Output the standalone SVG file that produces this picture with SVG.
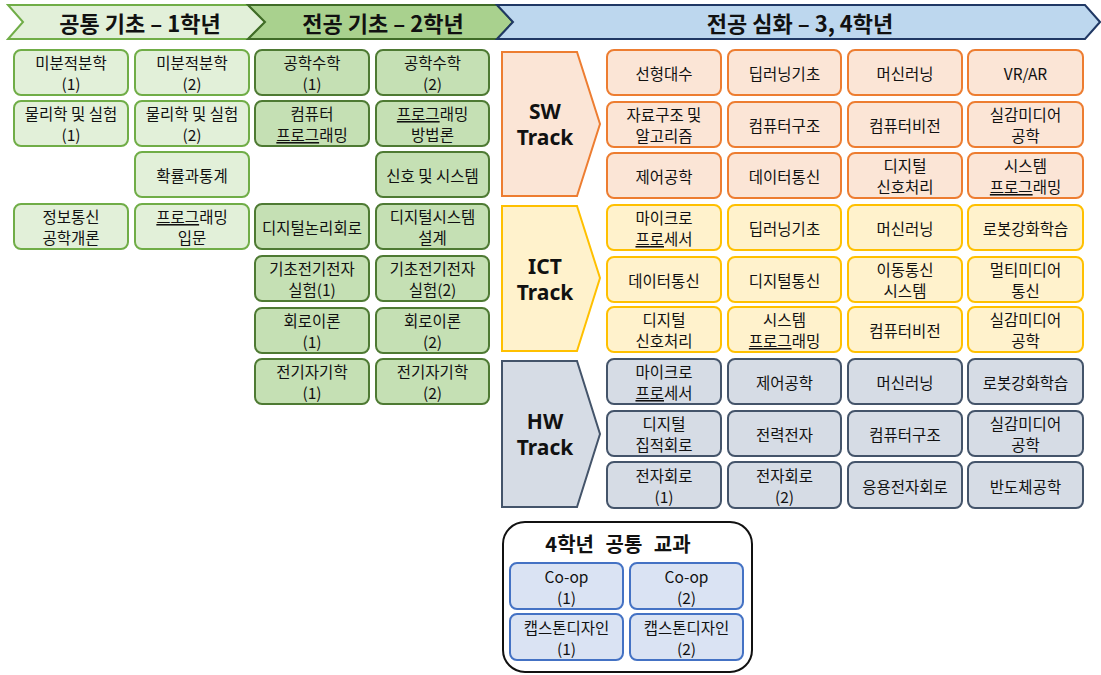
<svg xmlns="http://www.w3.org/2000/svg" width="1101" height="675" viewBox="0 0 1101 675">
<style>
text{font-family:"Noto Sans CJK KR","Noto Sans",sans-serif;fill:#111;text-anchor:middle;dominant-baseline:central}
.t{font-size:15.5px}
.h{font-size:22px;font-weight:bold}
.tr{font-size:21px;font-weight:bold;font-family:"Noto Sans","Noto Sans CJK KR",sans-serif}
.u{text-decoration:underline}
rect{stroke-width:2}
.g1{fill:#e2f0d9;stroke:#70ad47}
.g2{fill:#c5e0b4;stroke:#4e7a33}
.sw{fill:#fbe5d6;stroke:#ed7d31}
.ict{fill:#fff2cc;stroke:#ffc000}
.hw{fill:#d6dce5;stroke:#44546a}
.c4{fill:#dae3f3;stroke:#4472c4}
</style>
<g id="headers">
<polygon points="8,5 248,5 265,22 248,39 8,39 23,22" fill="#e2f0d9" stroke="#70ad47" stroke-width="2"/>
<polygon points="248,5 497,5 513,22 497,39 248,39 265,22" fill="#a9d18e" stroke="#3f6b27" stroke-width="2"/>
<polygon points="497,5 1085,5 1100,22 1085,39 497,39 513,22" fill="#bdd7ee" stroke="#203864" stroke-width="2"/>
<text class="h" x="140" y="22">공통 기초 – 1학년</text>
<text class="h" x="383" y="22">전공 기초 – 2학년</text>
<text class="h" x="800" y="22">전공 심화 – 3, 4학년</text>
</g>
<g id="year1">
<g id="y1-1"><rect class="g1" x="14" y="50" width="114" height="45" rx="7"/><text class="t" x="71" y="62">미분적분학</text><text class="t" x="71" y="83">(1)</text></g>
<g id="y1-2"><rect class="g1" x="135" y="50" width="114" height="45" rx="7"/><text class="t" x="192" y="62">미분적분학</text><text class="t" x="192" y="83">(2)</text></g>
<g id="y1-3"><rect class="g1" x="14" y="101" width="114" height="45" rx="7"/><text class="t" x="71" y="113">물리학 및 실험</text><text class="t" x="71" y="134">(1)</text></g>
<g id="y1-4"><rect class="g1" x="135" y="101" width="114" height="45" rx="7"/><text class="t" x="192" y="113">물리학 및 실험</text><text class="t" x="192" y="134">(2)</text></g>
<g id="y1-5"><rect class="g1" x="135" y="152" width="114" height="45" rx="7"/><text class="t" x="192" y="175">확률과통계</text></g>
<g id="y1-6"><rect class="g1" x="14" y="204" width="114" height="45" rx="7"/><text class="t" x="71" y="216">정보통신</text><text class="t" x="71" y="237">공학개론</text></g>
<g id="y1-7"><rect class="g1" x="135" y="204" width="114" height="45" rx="7"/><text class="t" x="192" y="216"><tspan class="u">프로그</tspan>래밍</text><text class="t" x="192" y="237">입문</text></g>
</g>
<g id="year2">
<g id="y2-1"><rect class="g2" x="255" y="50" width="114" height="45" rx="7"/><text class="t" x="312" y="62">공학수학</text><text class="t" x="312" y="83">(1)</text></g>
<g id="y2-2"><rect class="g2" x="376" y="50" width="113" height="45" rx="7"/><text class="t" x="432.5" y="62">공학수학</text><text class="t" x="432.5" y="83">(2)</text></g>
<g id="y2-3"><rect class="g2" x="255" y="101" width="114" height="45" rx="7"/><text class="t" x="312" y="113">컴퓨터</text><text class="t" x="312" y="134"><tspan class="u">프로그</tspan>래밍</text></g>
<g id="y2-4"><rect class="g2" x="376" y="101" width="113" height="45" rx="7"/><text class="t" x="432.5" y="113"><tspan class="u">프로그</tspan>래밍</text><text class="t" x="432.5" y="134">방법론</text></g>
<g id="y2-5"><rect class="g2" x="376" y="152" width="113" height="45" rx="7"/><text class="t" x="432.5" y="175">신호 및 시스템</text></g>
<g id="y2-6"><rect class="g2" x="255" y="204" width="114" height="45" rx="7"/><text class="t" x="312" y="227">디지털논리회로</text></g>
<g id="y2-7"><rect class="g2" x="376" y="204" width="113" height="45" rx="7"/><text class="t" x="432.5" y="216">디지털시스템</text><text class="t" x="432.5" y="237">설계</text></g>
<g id="y2-8"><rect class="g2" x="255" y="256" width="114" height="45" rx="7"/><text class="t" x="312" y="268">기초전기전자</text><text class="t" x="312" y="289">실험(1)</text></g>
<g id="y2-9"><rect class="g2" x="376" y="256" width="113" height="45" rx="7"/><text class="t" x="432.5" y="268">기초전기전자</text><text class="t" x="432.5" y="289">실험(2)</text></g>
<g id="y2-10"><rect class="g2" x="255" y="308" width="114" height="45" rx="7"/><text class="t" x="312" y="320">회로이론</text><text class="t" x="312" y="341">(1)</text></g>
<g id="y2-11"><rect class="g2" x="376" y="308" width="113" height="45" rx="7"/><text class="t" x="432.5" y="320">회로이론</text><text class="t" x="432.5" y="341">(2)</text></g>
<g id="y2-12"><rect class="g2" x="255" y="359" width="114" height="45" rx="7"/><text class="t" x="312" y="371">전기자기학</text><text class="t" x="312" y="392">(1)</text></g>
<g id="y2-13"><rect class="g2" x="376" y="359" width="113" height="45" rx="7"/><text class="t" x="432.5" y="371">전기자기학</text><text class="t" x="432.5" y="392">(2)</text></g>
</g>
<g id="sw-track">
<g id="sw-label"><polygon points="502,52 577,52 600,124 577,196 502,196" fill="#fbe5d6" stroke="#ed7d31" stroke-width="2"/><text class="tr" x="545" y="111">SW</text><text class="tr" x="545" y="137">Track</text></g>
<g id="sw-1"><rect class="sw" x="607" y="50" width="114" height="45" rx="7"/><text class="t" x="664" y="73">선형대수</text></g>
<g id="sw-2"><rect class="sw" x="728" y="50" width="113" height="45" rx="7"/><text class="t" x="784.5" y="73">딥러닝기초</text></g>
<g id="sw-3"><rect class="sw" x="848" y="50" width="114" height="45" rx="7"/><text class="t" x="905" y="73">머신러닝</text></g>
<g id="sw-4"><rect class="sw" x="968" y="50" width="115" height="45" rx="7"/><text class="t" x="1025.5" y="73">VR/AR</text></g>
<g id="sw-5"><rect class="sw" x="607" y="102" width="114" height="45" rx="7"/><text class="t" x="664" y="114">자료구조 및</text><text class="t" x="664" y="135">알고리즘</text></g>
<g id="sw-6"><rect class="sw" x="728" y="102" width="113" height="45" rx="7"/><text class="t" x="784.5" y="125">컴퓨터구조</text></g>
<g id="sw-7"><rect class="sw" x="848" y="102" width="114" height="45" rx="7"/><text class="t" x="905" y="125">컴퓨터비전</text></g>
<g id="sw-8"><rect class="sw" x="968" y="102" width="115" height="45" rx="7"/><text class="t" x="1025.5" y="114">실감미디어</text><text class="t" x="1025.5" y="135">공학</text></g>
<g id="sw-9"><rect class="sw" x="607" y="153" width="114" height="45" rx="7"/><text class="t" x="664" y="176">제어공학</text></g>
<g id="sw-10"><rect class="sw" x="728" y="153" width="113" height="45" rx="7"/><text class="t" x="784.5" y="176">데이터통신</text></g>
<g id="sw-11"><rect class="sw" x="848" y="153" width="114" height="45" rx="7"/><text class="t" x="905" y="165">디지털</text><text class="t" x="905" y="186">신호처리</text></g>
<g id="sw-12"><rect class="sw" x="968" y="153" width="115" height="45" rx="7"/><text class="t" x="1025.5" y="165">시스템</text><text class="t" x="1025.5" y="186"><tspan class="u">프로그</tspan>래밍</text></g>
</g>
<g id="ict-track">
<g id="ict-label"><polygon points="502,206 577,206 600,278 577,351 502,351" fill="#fff2cc" stroke="#ffc000" stroke-width="2"/><text class="tr" x="545" y="266">ICT</text><text class="tr" x="545" y="292">Track</text></g>
<g id="ict-1"><rect class="ict" x="607" y="205" width="114" height="45" rx="7"/><text class="t" x="664" y="217">마이크로</text><text class="t" x="664" y="238"><tspan class="u">프로</tspan>세서</text></g>
<g id="ict-2"><rect class="ict" x="728" y="205" width="113" height="45" rx="7"/><text class="t" x="784.5" y="228">딥러닝기초</text></g>
<g id="ict-3"><rect class="ict" x="848" y="205" width="114" height="45" rx="7"/><text class="t" x="905" y="228">머신러닝</text></g>
<g id="ict-4"><rect class="ict" x="968" y="205" width="115" height="45" rx="7"/><text class="t" x="1025.5" y="228">로봇강화학습</text></g>
<g id="ict-5"><rect class="ict" x="607" y="257" width="114" height="45" rx="7"/><text class="t" x="664" y="280">데이터통신</text></g>
<g id="ict-6"><rect class="ict" x="728" y="257" width="113" height="45" rx="7"/><text class="t" x="784.5" y="280">디지털통신</text></g>
<g id="ict-7"><rect class="ict" x="848" y="257" width="114" height="45" rx="7"/><text class="t" x="905" y="269">이동통신</text><text class="t" x="905" y="290">시스템</text></g>
<g id="ict-8"><rect class="ict" x="968" y="257" width="115" height="45" rx="7"/><text class="t" x="1025.5" y="269">멀티미디어</text><text class="t" x="1025.5" y="290">통신</text></g>
<g id="ict-9"><rect class="ict" x="607" y="307" width="114" height="45" rx="7"/><text class="t" x="664" y="319">디지털</text><text class="t" x="664" y="340">신호처리</text></g>
<g id="ict-10"><rect class="ict" x="728" y="307" width="113" height="45" rx="7"/><text class="t" x="784.5" y="319">시스템</text><text class="t" x="784.5" y="340"><tspan class="u">프로그</tspan>래밍</text></g>
<g id="ict-11"><rect class="ict" x="848" y="307" width="114" height="45" rx="7"/><text class="t" x="905" y="330">컴퓨터비전</text></g>
<g id="ict-12"><rect class="ict" x="968" y="307" width="115" height="45" rx="7"/><text class="t" x="1025.5" y="319">실감미디어</text><text class="t" x="1025.5" y="340">공학</text></g>
</g>
<g id="hw-track">
<g id="hw-label"><polygon points="502,361 577,361 600,434 577,507 502,507" fill="#d6dce5" stroke="#44546a" stroke-width="2"/><text class="tr" x="545" y="421">HW</text><text class="tr" x="545" y="447">Track</text></g>
<g id="hw-1"><rect class="hw" x="607" y="359" width="114" height="45" rx="7"/><text class="t" x="664" y="371">마이크로</text><text class="t" x="664" y="392"><tspan class="u">프로</tspan>세서</text></g>
<g id="hw-2"><rect class="hw" x="728" y="359" width="113" height="45" rx="7"/><text class="t" x="784.5" y="382">제어공학</text></g>
<g id="hw-3"><rect class="hw" x="848" y="359" width="114" height="45" rx="7"/><text class="t" x="905" y="382">머신러닝</text></g>
<g id="hw-4"><rect class="hw" x="968" y="359" width="115" height="45" rx="7"/><text class="t" x="1025.5" y="382">로봇강화학습</text></g>
<g id="hw-5"><rect class="hw" x="607" y="411" width="114" height="45" rx="7"/><text class="t" x="664" y="423">디지털</text><text class="t" x="664" y="444">집적회로</text></g>
<g id="hw-6"><rect class="hw" x="728" y="411" width="113" height="45" rx="7"/><text class="t" x="784.5" y="434">전력전자</text></g>
<g id="hw-7"><rect class="hw" x="848" y="411" width="114" height="45" rx="7"/><text class="t" x="905" y="434">컴퓨터구조</text></g>
<g id="hw-8"><rect class="hw" x="968" y="411" width="115" height="45" rx="7"/><text class="t" x="1025.5" y="423">실감미디어</text><text class="t" x="1025.5" y="444">공학</text></g>
<g id="hw-9"><rect class="hw" x="607" y="462" width="114" height="46" rx="7"/><text class="t" x="664" y="475">전자회로</text><text class="t" x="664" y="496">(1)</text></g>
<g id="hw-10"><rect class="hw" x="728" y="462" width="113" height="46" rx="7"/><text class="t" x="784.5" y="475">전자회로</text><text class="t" x="784.5" y="496">(2)</text></g>
<g id="hw-11"><rect class="hw" x="848" y="462" width="114" height="46" rx="7"/><text class="t" x="905" y="486">응용전자회로</text></g>
<g id="hw-12"><rect class="hw" x="968" y="462" width="115" height="46" rx="7"/><text class="t" x="1025.5" y="486">반도체공학</text></g>
</g>
<g id="year4-common">
<rect x="503" y="522" width="249" height="150" rx="22" fill="#fff" stroke="#111" stroke-width="2"/>
<text class="h" x="618" y="543" style="font-size:20px;word-spacing:7px">4학년 공통 교과</text>
<g id="c4-1"><rect class="c4" x="510" y="563" width="113" height="46" rx="7"/><text class="t" x="566.5" y="576">Co-op</text><text class="t" x="566.5" y="597">(1)</text></g>
<g id="c4-2"><rect class="c4" x="630" y="563" width="113" height="46" rx="7"/><text class="t" x="686.5" y="576">Co-op</text><text class="t" x="686.5" y="597">(2)</text></g>
<g id="c4-3"><rect class="c4" x="510" y="614" width="113" height="46" rx="7"/><text class="t" x="566.5" y="627">캡스톤디자인</text><text class="t" x="566.5" y="648">(1)</text></g>
<g id="c4-4"><rect class="c4" x="630" y="614" width="113" height="46" rx="7"/><text class="t" x="686.5" y="627">캡스톤디자인</text><text class="t" x="686.5" y="648">(2)</text></g>
</g>
<g id="connectors"/>
</svg>
